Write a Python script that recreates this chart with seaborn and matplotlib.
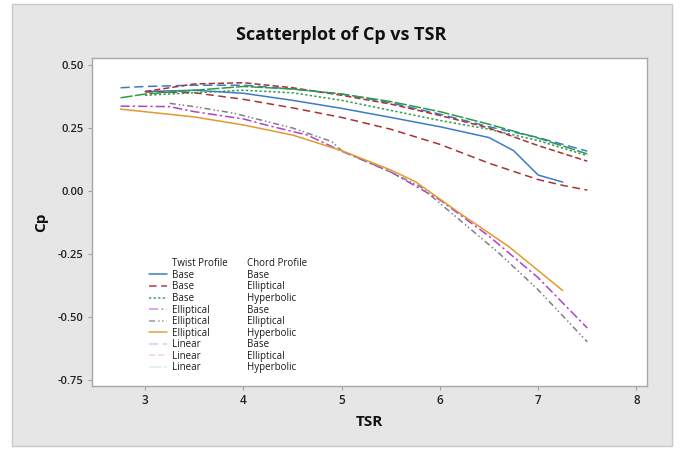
import numpy as np
import pandas as pd
import matplotlib
matplotlib.use('Agg')
import matplotlib.pyplot as plt
import seaborn as sns
from matplotlib.lines import Line2D
from matplotlib.patches import Rectangle

sns.set_theme(style="white")
plt.rcParams['font.family'] = ['Open Sans', 'DejaVu Sans']

# ==================== data ====================
twist = ['Base', 'Base', 'Base', 'Elliptical', 'Elliptical', 'Elliptical',
         'Linear', 'Linear', 'Linear']
chord = ['Base', 'Elliptical', 'Hyperbolic', 'Base', 'Elliptical', 'Hyperbolic',
         'Base', 'Elliptical', 'Hyperbolic']

tsr_bb = [3.0, 3.5, 4.0, 4.5, 5.0, 5.5, 6.0, 6.5, 6.75, 7.0, 7.25]
cp_bb = [0.395, 0.400, 0.388, 0.360, 0.328, 0.292, 0.255, 0.212, 0.160, 0.063, 0.035]

tsr_be = [3.0, 3.5, 4.0, 4.5, 5.0, 5.5, 6.0, 6.5, 7.0, 7.25, 7.5]
cp_be = [0.394, 0.390, 0.364, 0.330, 0.292, 0.245, 0.185, 0.110, 0.045, 0.022, 0.003]

tsr_bh = [3.0, 3.5, 4.0, 4.5, 5.0, 5.5, 6.0, 6.5, 7.0, 7.5]
cp_bh = [0.380, 0.390, 0.400, 0.390, 0.360, 0.320, 0.280, 0.245, 0.200, 0.140]

tsr_eb = [2.75, 3.25, 3.5, 4.0, 4.25, 4.65, 5.0, 5.5, 6.0, 6.5, 7.0, 7.5]
cp_eb = [0.337, 0.335, 0.315, 0.286, 0.260, 0.222, 0.158, 0.075, -0.036, -0.180, -0.345, -0.545]

tsr_ee = [3.25, 3.5, 3.9, 4.5, 4.9, 5.0, 5.5, 5.8, 6.2, 6.6, 7.0, 7.5]
cp_ee = [0.348, 0.335, 0.309, 0.250, 0.196, 0.160, 0.075, 0.017, -0.115, -0.247, -0.393, -0.600]

tsr_eh = [2.75, 3.5, 4.0, 4.5, 5.0, 5.5, 5.75, 6.2, 6.7, 7.25]
cp_eh = [0.325, 0.294, 0.262, 0.222, 0.160, 0.083, 0.037, -0.088, -0.221, -0.396]

tsr_lb = [2.75, 3.0, 3.5, 4.0, 4.5, 5.0, 5.5, 6.0, 6.5, 7.0, 7.5]
cp_lb = [0.410, 0.415, 0.420, 0.420, 0.405, 0.385, 0.350, 0.305, 0.255, 0.212, 0.158]

tsr_le = [3.0, 3.5, 4.0, 4.5, 5.0, 5.5, 6.0, 6.5, 7.0, 7.5]
cp_le = [0.395, 0.425, 0.430, 0.410, 0.380, 0.345, 0.300, 0.250, 0.180, 0.118]

tsr_lh = [2.75, 3.0, 3.5, 4.0, 4.5, 5.0, 5.5, 6.0, 6.5, 7.0, 7.5]
cp_lh = [0.370, 0.385, 0.400, 0.415, 0.405, 0.385, 0.355, 0.315, 0.265, 0.210, 0.147]

tsr_all = [tsr_bb, tsr_be, tsr_bh, tsr_eb, tsr_ee, tsr_eh, tsr_lb, tsr_le, tsr_lh]
cp_all = [cp_bb, cp_be, cp_bh, cp_eb, cp_ee, cp_eh, cp_lb, cp_le, cp_lh]

# 线条颜色（图中）与图例颜色（图例中 Linear 系列更浅）
line_colors = ['#3b7bc8', '#a83232', '#2f9a4a', '#b040d0', '#808080', '#e39a2c',
               '#3b7bc8', '#a83232', '#2f9a4a']
legend_colors = ['#3b7bc8', '#b83a48', '#3f9f60', '#d48ee6', '#9a9a9a', '#e0a040',
                 '#c4d6ee', '#f0d2da', '#ddeeee']
dash_styles = [(None, None), (5, 3), (1.5, 1.5), (6, 2, 1.5, 2), (4, 2, 1, 1.5, 1, 2),
               (None, None), (6, 3), (4, 2), (8, 1.5)]

rows = []
for i in range(len(twist)):
    name = f'{twist[i]} / {chord[i]}'
    for t, c in zip(tsr_all[i], cp_all[i]):
        rows.append({'TSR': t, 'Cp': c, 'Series': name})
df = pd.DataFrame(rows)
series_names = [f'{t} / {c}' for t, c in zip(twist, chord)]

# ==================== plot ====================
fig = plt.figure(figsize=(6.82, 4.5), dpi=100)
fig.patch.set_facecolor('white')
fig.patches.append(Rectangle((12 / 682, 4 / 450), 660 / 682, 442 / 450,
                             transform=fig.transFigure, facecolor='#e6e6e6',
                             edgecolor='#c8c8c8', lw=1, zorder=-10))

ax = fig.add_axes([0.135, 0.143, 0.814, 0.728])
ax.set_zorder(5)
ax.set_facecolor('white')

palette = dict(zip(series_names, line_colors))
dashes = {}
for n, d in zip(series_names, dash_styles):
    dashes[n] = '' if d == (None, None) else d

sns.lineplot(data=df, x='TSR', y='Cp', hue='Series', style='Series',
             palette=palette, dashes=dashes, hue_order=series_names,
             style_order=series_names, sort=False, estimator=None,
             legend=False, lw=1.1, ax=ax)

ax.set_xlim(2.46, 8.11)
ax.set_ylim(-0.774, 0.528)
ax.set_xticks([3, 4, 5, 6, 7, 8])
ax.set_yticks([-0.75, -0.5, -0.25, 0.0, 0.25, 0.5])
ax.set_yticklabels([f'{v:.2f}' for v in ax.get_yticks()])
for s in ax.spines.values():
    s.set_color('#a8a8a8')
    s.set_linewidth(1)
ax.tick_params(axis='both', direction='out', length=3, width=0.8, color='#a0a0a0',
               labelsize=8, labelcolor='#222222', pad=3,
               bottom=True, left=True)
ax.tick_params(axis='x', labelsize=8.5)
for lab in ax.get_xticklabels() + ax.get_yticklabels():
    lab.set_fontweight('semibold')

ax.set_xlabel('TSR', fontsize=11, fontweight='bold', color='#111111', labelpad=6)
ax.set_ylabel('Cp', fontsize=11, fontweight='bold', color='#111111', labelpad=7)
fig.text(0.5, 0.922, 'Scatterplot of Cp vs TSR', ha='center', va='center',
         fontsize=13, fontweight='bold', color='#111111')

# 图例：两列（Twist Profile / Chord Profile）
h1 = [Line2D([], [], color='none')]
for c, d in zip(legend_colors, dash_styles):
    ln = Line2D([], [], color=c, lw=1.1)
    if d != (None, None):
        ln.set_dashes(d)
    h1.append(ln)
leg_kw = dict(loc='upper left', frameon=False, labelspacing=0.06,
              borderpad=0, borderaxespad=0,
              prop={'size': 7, 'weight': 'medium'})
leg1 = ax.legend(h1, ['Twist Profile'] + twist, bbox_to_anchor=(0.103, 0.389),
                 handlelength=1.8, handletextpad=0.5, **leg_kw)
for t in leg1.get_texts():
    t.set_color('#1a1a1a')
ax.add_artist(leg1)
h2 = [Line2D([], [], color='none') for _ in range(len(chord) + 1)]
leg2 = ax.legend(h2, ['Chord Profile'] + chord, bbox_to_anchor=(0.279, 0.389),
                 handlelength=0, handletextpad=0, **leg_kw)
for t in leg2.get_texts():
    t.set_color('#1a1a1a')

plt.savefig('out.png', dpi=100)
